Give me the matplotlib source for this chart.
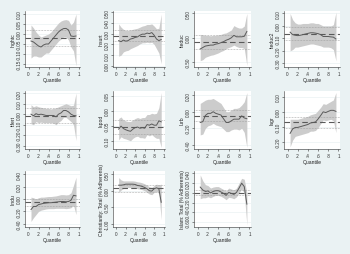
import matplotlib
matplotlib.use("Agg")
import matplotlib.pyplot as plt
from matplotlib.ticker import FixedLocator, FuncFormatter

plt.rcParams['font.family'] = ['Liberation Sans', 'DejaVu Sans']

quantiles = [0.05, 0.10, 0.15, 0.20, 0.25, 0.30, 0.35, 0.40, 0.45, 0.50,
             0.55, 0.60, 0.65, 0.70, 0.75, 0.80, 0.85, 0.90, 0.95]
x_ticks = [0, 0.2, 0.4, 0.6, 0.8, 1.0]
x_tick_labels = ["0", ".2", ".4", ".6", ".8", "1"]

var_names = ["lnghtc", "lnsurt", "lteduc", "lteduc2", "ltfert", "lspod",
             "lurb", "lagr", "lindu", "Christianity: Total (% Adherents)",
             "Islam: Total (% Adherents)"]

# quantile coefficients and confidence bounds
lnghtc_b = [-0.035, -0.04, -0.05, -0.06, -0.065, -0.055, -0.05, -0.05, -0.035, -0.02,
            -0.005, 0.01, 0.02, 0.027, 0.028, 0.02, -0.01, -0.012, -0.01]
lnghtc_hi = [0.045, 0.03, 0.01, -0.005, -0.015, -0.01, -0.005, 0.0, 0.01, 0.025,
             0.04, 0.055, 0.065, 0.07, 0.072, 0.068, 0.045, 0.06, 0.10]
lnghtc_lo = [-0.12, -0.11, -0.11, -0.115, -0.115, -0.105, -0.095, -0.095, -0.08, -0.065,
             -0.05, -0.035, -0.025, -0.015, -0.015, -0.03, -0.065, -0.085, -0.16]

lnsurt_b = [0.235, 0.225, 0.24, 0.23, 0.235, 0.25, 0.255, 0.265, 0.27, 0.285,
            0.295, 0.295, 0.305, 0.30, 0.31, 0.285, 0.25, 0.235, 0.245]
lnsurt_hi = [0.39, 0.36, 0.34, 0.33, 0.33, 0.335, 0.34, 0.345, 0.35, 0.36,
             0.37, 0.375, 0.385, 0.385, 0.39, 0.37, 0.345, 0.35, 0.48]
lnsurt_lo = [0.09, 0.10, 0.13, 0.14, 0.145, 0.16, 0.17, 0.18, 0.19, 0.205,
             0.215, 0.215, 0.22, 0.215, 0.22, 0.20, 0.16, 0.12, 0.02]

lteduc_b = [-0.23, -0.2, -0.17, -0.16, -0.15, -0.15, -0.13, -0.12, -0.1, -0.08,
            -0.05, -0.03, 0.0, 0.05, 0.02, 0.02, 0.02, 0.03, 0.13]
lteduc_hi = [0.07, 0.06, 0.05, 0.05, 0.04, 0.05, 0.05, 0.06, 0.07, 0.09,
             0.10, 0.13, 0.16, 0.25, 0.22, 0.20, 0.20, 0.24, 0.50]
lteduc_lo = [-0.47, -0.45, -0.40, -0.38, -0.36, -0.35, -0.33, -0.31, -0.28, -0.26,
             -0.22, -0.20, -0.18, -0.15, -0.18, -0.20, -0.20, -0.22, -0.57]

lteduc2_b = [-0.05, -0.07, -0.075, -0.078, -0.075, -0.07, -0.065, -0.06, -0.055, -0.055,
             -0.058, -0.062, -0.07, -0.085, -0.085, -0.085, -0.088, -0.09, -0.105]
lteduc2_hi = [0.10, 0.05, 0.025, 0.015, 0.015, 0.02, 0.02, 0.02, 0.025, 0.025,
              0.02, 0.02, 0.01, 0.0, 0.0, 0.0, 0.0, 0.01, 0.11]
lteduc2_lo = [-0.20, -0.19, -0.17, -0.17, -0.165, -0.16, -0.155, -0.15, -0.145, -0.145,
              -0.15, -0.155, -0.16, -0.17, -0.17, -0.17, -0.175, -0.19, -0.28]

ltfert_b = [0.0, -0.015, 0.005, -0.005, 0.0, -0.005, -0.012, -0.012, -0.012, -0.012,
            -0.025, 0.0, 0.012, 0.035, 0.035, 0.022, 0.0, -0.012, -0.015]
ltfert_hi = [0.09, 0.07, 0.08, 0.07, 0.065, 0.06, 0.055, 0.055, 0.05, 0.055,
             0.06, 0.07, 0.08, 0.09, 0.10, 0.09, 0.08, 0.085, 0.20]
ltfert_lo = [-0.09, -0.10, -0.07, -0.08, -0.075, -0.08, -0.08, -0.08, -0.08, -0.085,
             -0.10, -0.075, -0.06, -0.03, -0.03, -0.05, -0.07, -0.10, -0.25]

lspod_b = [-0.06, -0.05, -0.058, -0.062, -0.065, -0.067, -0.06, -0.055, -0.053, -0.057,
           -0.055, -0.057, -0.045, -0.047, -0.043, -0.047, -0.047, -0.033, -0.036]
lspod_hi = [-0.025, -0.02, -0.03, -0.033, -0.035, -0.035, -0.03, -0.025, -0.022, -0.025,
            -0.022, -0.022, -0.012, -0.012, -0.008, -0.01, -0.008, 0.01, 0.06]
lspod_lo = [-0.095, -0.085, -0.09, -0.092, -0.095, -0.098, -0.09, -0.085, -0.083, -0.088,
            -0.088, -0.09, -0.078, -0.082, -0.078, -0.085, -0.09, -0.09, -0.12]

lurb_b = [-0.13, -0.12, -0.045, -0.02, -0.02, 0.0, -0.02, -0.03, -0.04, -0.085,
          -0.13, -0.13, -0.11, -0.09, -0.09, -0.09, -0.05, -0.075, -0.085]
lurb_hi = [0.10, 0.12, 0.14, 0.15, 0.15, 0.16, 0.14, 0.12, 0.10, 0.05,
           0.0, 0.0, 0.02, 0.04, 0.04, 0.05, 0.08, 0.12, 0.23]
lurb_lo = [-0.28, -0.27, -0.20, -0.17, -0.16, -0.14, -0.16, -0.17, -0.18, -0.21,
           -0.24, -0.24, -0.22, -0.21, -0.21, -0.22, -0.20, -0.25, -0.43]

lagr_b = [-0.145, -0.115, -0.105, -0.105, -0.10, -0.095, -0.09, -0.085, -0.075, -0.072,
          -0.068, -0.048, -0.025, 0.0, -0.005, 0.003, 0.01, 0.01, 0.003]
lagr_hi = [-0.05, -0.05, -0.05, -0.05, -0.045, -0.04, -0.035, -0.03, -0.02, -0.015,
           -0.01, 0.01, 0.03, 0.055, 0.05, 0.06, 0.07, 0.08, 0.13]
lagr_lo = [-0.235, -0.19, -0.165, -0.16, -0.155, -0.15, -0.145, -0.14, -0.13, -0.13,
           -0.125, -0.105, -0.08, -0.055, -0.06, -0.055, -0.05, -0.06, -0.14]

lindu_b = [-0.17, -0.12, -0.12, -0.09, -0.08, -0.07, -0.065, -0.06, -0.06, -0.055,
           -0.05, -0.045, -0.04, -0.04, -0.045, -0.04, -0.02, 0.06, 0.05]
lindu_hi = [0.03, 0.02, 0.0, 0.02, 0.03, 0.03, 0.035, 0.04, 0.04, 0.045,
            0.05, 0.06, 0.07, 0.07, 0.065, 0.07, 0.10, 0.22, 0.35]
lindu_lo = [-0.36, -0.30, -0.25, -0.20, -0.18, -0.17, -0.16, -0.155, -0.155, -0.155,
            -0.15, -0.15, -0.15, -0.15, -0.155, -0.15, -0.14, -0.10, -0.25]

christ_b = [0.17, 0.17, 0.18, 0.20, 0.20, 0.20, 0.20, 0.19, 0.16, 0.15,
            0.13, 0.10, 0.06, 0.0, -0.01, 0.06, 0.09, 0.06, -0.35]
christ_hi = [0.40, 0.33, 0.30, 0.30, 0.30, 0.30, 0.30, 0.29, 0.27, 0.26,
             0.24, 0.21, 0.17, 0.12, 0.10, 0.16, 0.20, 0.18, 0.20]
christ_lo = [-0.05, 0.02, 0.07, 0.10, 0.10, 0.10, 0.10, 0.09, 0.06, 0.05,
             0.03, 0.0, -0.05, -0.10, -0.12, -0.05, -0.02, -0.08, -0.88]

islam_b = [0.12, 0.06, 0.03, 0.04, 0.0, 0.03, 0.045, 0.045, 0.02, -0.01,
           -0.05, 0.01, -0.01, -0.03, 0.01, 0.10, 0.20, 0.13, -0.23]
islam_hi = [0.37, 0.25, 0.17, 0.15, 0.10, 0.12, 0.13, 0.13, 0.10, 0.07,
            0.04, 0.10, 0.08, 0.06, 0.10, 0.20, 0.30, 0.28, 0.0]
islam_lo = [-0.12, -0.10, -0.10, -0.08, -0.10, -0.07, -0.05, -0.05, -0.07, -0.10,
            -0.14, -0.09, -0.10, -0.12, -0.08, 0.0, 0.08, 0.0, -0.66]

# OLS coefficient and its confidence bounds
ols_b = [-0.018, 0.281, -0.087, -0.065, -0.02, -0.052, -0.05, -0.07, -0.055, 0.076, 0.0]
ols_lo = [-0.059, 0.228, -0.235, -0.115, -0.08, -0.076, -0.11, -0.11, -0.11, -0.03, -0.05]
ols_hi = [0.02, 0.337, 0.065, -0.012, 0.06, -0.03, 0.02, -0.035, 0.0, 0.16, 0.06]

# y ticks per panel
y_ticks = [
    [-0.15, -0.10, -0.05, 0.0, 0.05, 0.10],
    [0.0, 0.1, 0.2, 0.3, 0.4, 0.5],
    [-0.5, 0.0, 0.5],
    [-0.3, -0.2, -0.1, 0.0, 0.1],
    [-0.3, -0.2, -0.1, 0.0, 0.1, 0.2],
    [-0.10, -0.05, 0.0, 0.05],
    [-0.4, -0.2, 0.0, 0.2],
    [-0.2, -0.1, 0.0, 0.1],
    [-0.4, -0.2, 0.0, 0.2, 0.4],
    [-1.0, -0.5, 0.0, 0.5],
    [-0.6, -0.4, -0.2, 0.0, 0.2, 0.4],
]
y_lims = [(-0.165, 0.115), (-0.01, 0.51), (-0.6, 0.55), (-0.33, 0.12), (-0.33, 0.22),
          (-0.125, 0.065), (-0.45, 0.25), (-0.25, 0.14), (-0.45, 0.45), (-1.1, 0.6),
          (-0.7, 0.45)]

coefs = [lnghtc_b, lnsurt_b, lteduc_b, lteduc2_b, ltfert_b, lspod_b, lurb_b, lagr_b,
         lindu_b, christ_b, islam_b]
his = [lnghtc_hi, lnsurt_hi, lteduc_hi, lteduc2_hi, ltfert_hi, lspod_hi, lurb_hi, lagr_hi,
       lindu_hi, christ_hi, islam_hi]
los = [lnghtc_lo, lnsurt_lo, lteduc_lo, lteduc2_lo, ltfert_lo, lspod_lo, lurb_lo, lagr_lo,
       lindu_lo, christ_lo, islam_lo]

W, H = 350, 255
fig = plt.figure(figsize=(W / 100, H / 100), dpi=100)
bg = "#eaf2f3"
fig.patch.set_facecolor(bg)

cols = [(25, 80), (113, 165), (194, 251), (284, 340)]
rows = [(12, 68), (92, 150), (172, 228)]

fs = 3.3
for i in range(len(var_names)):
    r, c = divmod(i, 4)
    x0, x1 = cols[c]
    y0, y1 = rows[r]
    ax = fig.add_axes([x0 / W, 1 - y1 / H, (x1 - x0) / W, (y1 - y0) / H])
    ax.set_facecolor("white")
    for ytk in y_ticks[i]:
        ax.axhline(ytk, color=bg, lw=0.5, zorder=0)
    ax.fill_between(quantiles, los[i], his[i], color="#cccccc", lw=0, zorder=1)
    ax.plot(quantiles, coefs[i], color="#5a5a5a", lw=0.7, zorder=3)
    ax.axhline(ols_b[i], color="#5a5a5a", lw=0.8, ls=(0, (5, 3)), zorder=4)
    ax.axhline(ols_lo[i], color="#9a9a9a", lw=0.5, ls=(0, (1, 1.2)), zorder=2)
    ax.axhline(ols_hi[i], color="#9a9a9a", lw=0.5, ls=(0, (1, 1.2)), zorder=2)
    ax.set_xlim(-0.07, 1.03)
    ax.set_ylim(*y_lims[i])
    ax.xaxis.set_major_locator(FixedLocator(x_ticks))
    ax.set_xticklabels(x_tick_labels)
    ax.yaxis.set_major_locator(FixedLocator(y_ticks[i]))
    ax.yaxis.set_major_formatter(FuncFormatter(lambda v, p: "%.2f" % v))
    ax.tick_params(axis="both", labelsize=fs, length=1.5, width=0.4, pad=1,
                   colors="#333333")
    ax.tick_params(axis="x", pad=1.5)
    ax.tick_params(axis="y", labelrotation=90)
    for lab in ax.get_yticklabels():
        lab.set_verticalalignment("center")
    for s in ["top", "right"]:
        ax.spines[s].set_visible(False)
    for s in ["left", "bottom"]:
        ax.spines[s].set_linewidth(0.4)
        ax.spines[s].set_color("#333333")
    ax.set_xlabel("Quantile", fontsize=fs + 0.3, labelpad=0.5, color="#222222")
    ax.set_ylabel(var_names[i], fontsize=fs + 0.3, labelpad=0.5, color="#222222")

fig.savefig("out.png", dpi=100, facecolor=bg)
